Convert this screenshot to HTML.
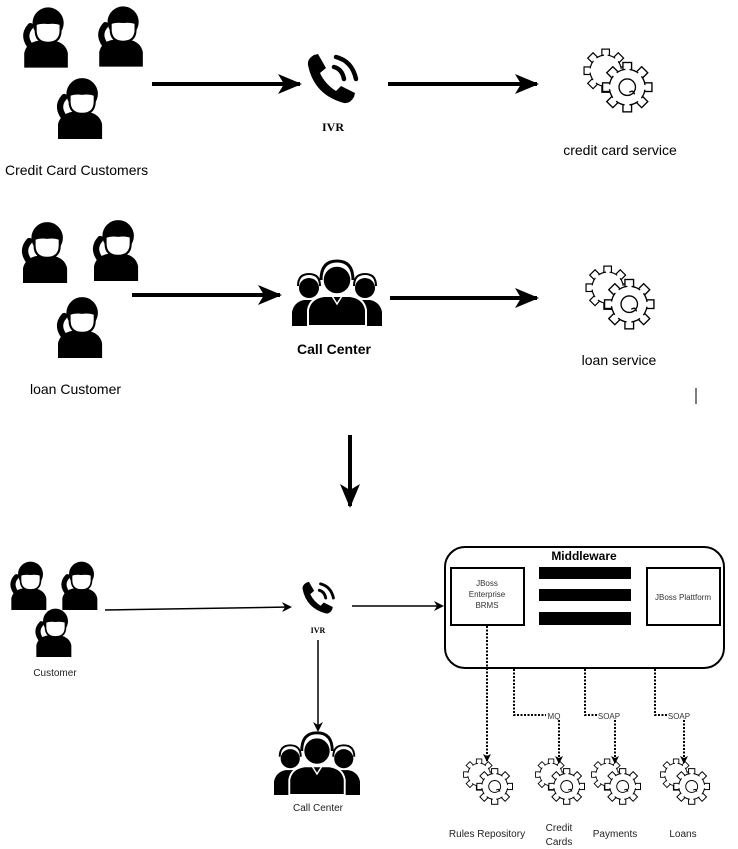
<!DOCTYPE html>
<html><head><meta charset="utf-8"><style>
html,body{margin:0;padding:0;background:#fff;}
svg{display:block;font-family:"Liberation Sans",sans-serif;}
</style></head><body>
<svg width="738" height="849" viewBox="0 0 738 849" xmlns="http://www.w3.org/2000/svg">
<defs>
<symbol id="caller" viewBox="0 0 52 60">
  <path d="M6,60 L6,46 Q8,36 20,34 L34,34 Q46,36 48,46 L48,60 Z" fill="#000"/>
  <ellipse cx="29" cy="17" rx="15" ry="15" fill="#000"/>
  <path d="M17,18 Q22,16 29,17 Q36,16 41,18 L41,24 Q41,36 29,36 Q17,36 17,24 Z" fill="#fff" stroke="#000" stroke-width="2"/>
  <path d="M12,20 Q3,30 14,42" stroke="#000" stroke-width="6" fill="none" stroke-linecap="round"/>
  <path d="M14,42 Q18,44 22,40" stroke="#000" stroke-width="2" fill="none"/>
</symbol>
<symbol id="phone" viewBox="0 0 56 52">
  <path d="M4,12 Q3,6 10,2 L14,1 L22,15 L16,20 Q21,31 32,38 L37,33 L51,40 L50,44 Q46,51 40,50 Q10,42 4,12 Z" fill="#000"/>
  <path d="M30,14 Q38,16 40,26" stroke="#000" stroke-width="4.5" fill="none" stroke-linecap="round"/>
  <path d="M32,4 Q48,8 52,26" stroke="#000" stroke-width="4.5" fill="none" stroke-linecap="round"/>
</symbol>
<symbol id="agents" viewBox="0 0 90 68">
  <circle cx="17" cy="30" r="10" fill="#000"/>
  <path d="M6,28 Q6,16 17,16 Q28,16 28,28" stroke="#000" stroke-width="2" fill="none"/>
  <path d="M0,68 L0,54 Q2,44 12,42 L26,42 L30,68 Z" fill="#000"/>
  <circle cx="73" cy="30" r="10" fill="#000"/>
  <path d="M62,28 Q62,16 73,16 Q84,16 84,28" stroke="#000" stroke-width="2" fill="none"/>
  <path d="M90,68 L90,54 Q88,44 78,42 L64,42 L60,68 Z" fill="#000"/>
  <path d="M16,68 L16,52 Q18,40 32,38 L58,38 Q72,40 74,52 L74,68 Z" fill="#000" stroke="#fff" stroke-width="2"/>
  <circle cx="45" cy="22" r="14" fill="#000" stroke="#fff" stroke-width="1.5"/>
  <path d="M29,22 Q29,3 45,3 Q61,3 61,22" stroke="#000" stroke-width="3" fill="none"/>
  <path d="M40,38 L45,46 L50,38" stroke="#fff" stroke-width="1.5" fill="none"/>
</symbol>
<g id="gearShape">
  <g fill="#fff" stroke="#000" stroke-width="1.1">
    <rect x="-3.5" y="-20" width="7" height="8"/>
    <rect x="-3.5" y="-20" width="7" height="8" transform="rotate(45)"/>
    <rect x="-3.5" y="-20" width="7" height="8" transform="rotate(90)"/>
    <rect x="-3.5" y="-20" width="7" height="8" transform="rotate(135)"/>
    <rect x="-3.5" y="-20" width="7" height="8" transform="rotate(180)"/>
    <rect x="-3.5" y="-20" width="7" height="8" transform="rotate(225)"/>
    <rect x="-3.5" y="-20" width="7" height="8" transform="rotate(270)"/>
    <rect x="-3.5" y="-20" width="7" height="8" transform="rotate(315)"/>
  </g>
  <circle r="14.5" fill="#fff"/>
  <path d="M0,-14.5 A14.5,14.5 0 1 1 -0.01,-14.5" fill="none" stroke="#000" stroke-width="1.1" stroke-dasharray="7.6 3.8" stroke-dashoffset="-1.9"/>
</g>
<symbol id="gear" viewBox="0 0 70 64">
  <g transform="translate(23,22) scale(1.05)"><use href="#gearShape"/></g>
  <g transform="translate(44,38) scale(1.2)"><use href="#gearShape"/></g>
  <circle cx="44" cy="38" r="8" fill="none" stroke="#000" stroke-width="1.3"/>
  <path d="M46,43 Q50,40 51,45" fill="none" stroke="#000" stroke-width="1.3"/>
</symbol>
<marker id="ah" markerWidth="10" markerHeight="10" refX="8" refY="5" orient="auto" markerUnits="userSpaceOnUse">
  <path d="M0,0 L10,5 L0,10 L3,5 Z" fill="#000"/>
</marker>
<marker id="ahBig" markerWidth="24" markerHeight="20" refX="22" refY="10" orient="auto" markerUnits="userSpaceOnUse">
  <path d="M0,0 L24,10 L0,20 L6,10 Z" fill="#000"/>
</marker>
<marker id="ahS" markerWidth="8" markerHeight="8" refX="7" refY="4" orient="auto" markerUnits="userSpaceOnUse">
  <path d="M0,0 L8,4 L0,8 L2,4 Z" fill="#000"/>
</marker>
</defs>

<!-- Row 1 -->
<use href="#caller" x="18" y="5" width="54" height="63"/>
<use href="#caller" x="93" y="4" width="54" height="63"/>
<use href="#caller" x="51" y="76" width="56" height="63"/>
<text x="5" y="175" font-size="14">Credit Card Customers</text>
<line x1="152" y1="84" x2="300" y2="84" stroke="#000" stroke-width="4" marker-end="url(#ahBig)"/>
<use href="#phone" x="304" y="53" width="56" height="52"/>
<text x="333" y="131" font-size="12" font-weight="bold" text-anchor="middle" font-family="Liberation Serif,serif">IVR</text>
<line x1="388" y1="84" x2="537" y2="84" stroke="#000" stroke-width="4" marker-end="url(#ahBig)"/>
<use href="#gear" x="582" y="48" width="72" height="66"/>
<text x="620" y="155" font-size="14" text-anchor="middle">credit card service</text>

<!-- Row 2 -->
<use href="#caller" x="16" y="220" width="56" height="63"/>
<use href="#caller" x="87" y="218" width="56" height="63"/>
<use href="#caller" x="51" y="295" width="56" height="63"/>
<text x="30" y="394" font-size="14">loan Customer</text>
<line x1="132" y1="295" x2="280" y2="295" stroke="#000" stroke-width="4" marker-end="url(#ahBig)"/>
<use href="#agents" x="292" y="258" width="90" height="68"/>
<text x="334" y="354" font-size="14" font-weight="bold" text-anchor="middle">Call Center</text>
<line x1="390" y1="298" x2="537" y2="298" stroke="#000" stroke-width="4" marker-end="url(#ahBig)"/>
<use href="#gear" x="584" y="265" width="72" height="66"/>
<text x="619" y="365" font-size="14" text-anchor="middle">loan service</text>
<line x1="696" y1="388" x2="696" y2="404" stroke="#000" stroke-width="1"/>

<!-- Down arrow -->
<line x1="350" y1="435" x2="350" y2="506" stroke="#000" stroke-width="4" marker-end="url(#ahBig)"/>

<!-- Bottom -->
<use href="#caller" x="6" y="560" width="44" height="50"/>
<use href="#caller" x="57" y="560" width="44" height="50"/>
<use href="#caller" x="31" y="607" width="44" height="50"/>
<text x="55" y="676" font-size="10" text-anchor="middle" fill="#222">Customer</text>
<line x1="105" y1="610" x2="290" y2="607" stroke="#000" stroke-width="1.5" marker-end="url(#ah)"/>
<use href="#phone" x="300" y="581" width="36" height="34"/>
<text x="318" y="633" font-size="8" font-weight="bold" text-anchor="middle" font-family="Liberation Serif,serif">IVR</text>
<line x1="352" y1="606" x2="442" y2="606" stroke="#000" stroke-width="1.5" marker-end="url(#ah)"/>
<line x1="318" y1="640" x2="318" y2="730" stroke="#000" stroke-width="1.5" marker-end="url(#ah)"/>
<use href="#agents" x="272" y="730" width="90" height="65"/>
<text x="318" y="811" font-size="10" text-anchor="middle" fill="#222">Call Center</text>

<rect x="445" y="547" width="279" height="121" rx="20" fill="#fff" stroke="#000" stroke-width="2"/>
<text x="584" y="560" font-size="12" font-weight="bold" text-anchor="middle">Middleware</text>
<rect x="451" y="568" width="73" height="57" fill="#fff" stroke="#000" stroke-width="2"/>
<text x="487" y="586" font-size="8" text-anchor="middle" fill="#333">JBoss</text>
<text x="487" y="597" font-size="8" text-anchor="middle" fill="#333">Enterprise</text>
<text x="487" y="608" font-size="8" text-anchor="middle" fill="#333">BRMS</text>
<rect x="539" y="567" width="92" height="12" fill="#000"/>
<rect x="539" y="589" width="92" height="12" fill="#000"/>
<rect x="539" y="612" width="92" height="13" fill="#000"/>
<rect x="647" y="568" width="73" height="57" fill="#fff" stroke="#000" stroke-width="2"/>
<text x="683" y="600" font-size="8" text-anchor="middle" fill="#333">JBoss Plattform</text>

<g stroke="#000" stroke-width="2" stroke-dasharray="2 1.5" fill="none">
  <line x1="487" y1="626" x2="487" y2="761" marker-end="url(#ahS)"/>
  <polyline points="514,669 514,715 546,715"/>
  <line x1="559" y1="720" x2="559" y2="763" marker-end="url(#ahS)"/>
  <polyline points="585,669 585,715 597,715"/>
  <line x1="615" y1="720" x2="615" y2="763" marker-end="url(#ahS)"/>
  <polyline points="655,669 655,715 667,715"/>
  <line x1="684" y1="720" x2="684" y2="763" marker-end="url(#ahS)"/>
</g>
<text x="554" y="719" font-size="8" text-anchor="middle" fill="#333">MQ</text>
<text x="609" y="719" font-size="8" text-anchor="middle" fill="#333">SOAP</text>
<text x="679" y="719" font-size="8" text-anchor="middle" fill="#333">SOAP</text>

<use href="#gear" x="462" y="758" width="52" height="48"/>
<use href="#gear" x="534" y="758" width="52" height="48"/>
<use href="#gear" x="590" y="758" width="52" height="48"/>
<use href="#gear" x="659" y="758" width="52" height="48"/>
<text x="487" y="837" font-size="10" text-anchor="middle" fill="#222">Rules Repository</text>
<text x="559" y="831" font-size="10" text-anchor="middle" fill="#222">Credit</text>
<text x="559" y="845" font-size="10" text-anchor="middle" fill="#222">Cards</text>
<text x="615" y="837" font-size="10" text-anchor="middle" fill="#222">Payments</text>
<text x="683" y="837" font-size="10" text-anchor="middle" fill="#222">Loans</text>
</svg>
</body></html>
